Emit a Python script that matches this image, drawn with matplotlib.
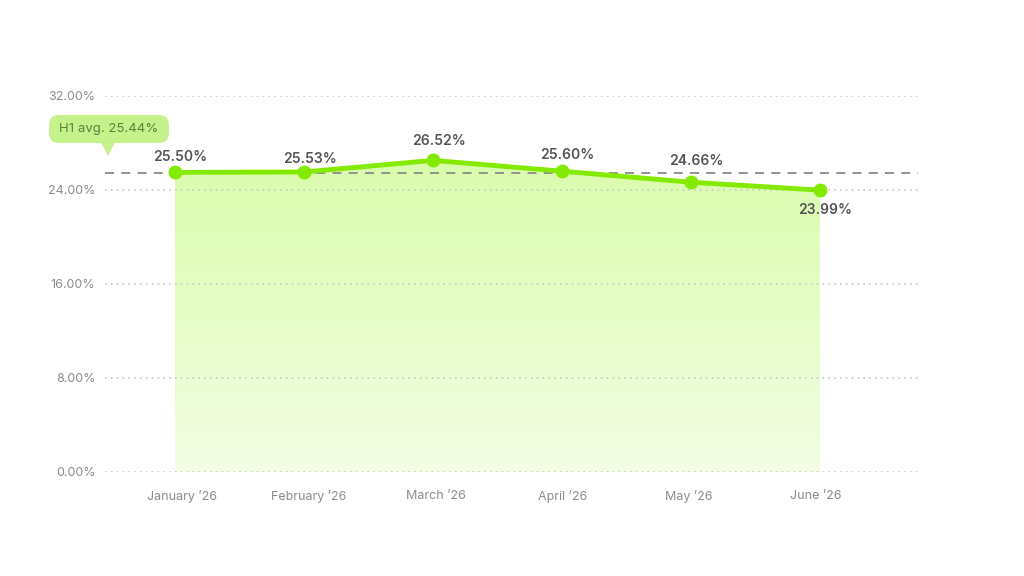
import matplotlib
matplotlib.use('Agg')
import matplotlib.pyplot as plt
import numpy as np
from matplotlib.patches import FancyBboxPatch, Polygon

plt.rcParams['font.family'] = ['Inter', 'DejaVu Sans']

months = ["January \u201926", "February \u201926", "March \u201926",
          "April \u201926", "May \u201926", "June \u201926"]
rates = [25.50, 25.53, 26.52, 25.60, 24.66, 23.99]
avg_rate = 25.44
avg_label = "H1 avg. 25.44%"
yticks = [0, 8, 16, 24, 32]

LINE = '#84ea00'
GRID = '#c8c8c8'
TICK = '#8c8c8c'
LABEL = '#555555'

fig = plt.figure(figsize=(10.24, 5.76), dpi=100)
ax = fig.add_axes([105 / 1024, 104 / 576, 813 / 1024, 376 / 576])

x = np.arange(len(months))
ax.set_xlim(-70 / 129, 743 / 129)
ax.set_ylim(0, 32)

# gradient fill under line
poly = ax.fill_between(x, 0, rates, color='none', lw=0)
grad = np.linspace(0, 1, 256).reshape(-1, 1)
top_c = np.array([218, 252, 172]) / 255
bot_c = np.array([243, 254, 228]) / 255
img = top_c[None, None, :] * (1 - grad[:, :, None]) + bot_c[None, None, :] * grad[:, :, None]
im = ax.imshow(img, extent=[x[0], x[-1], 0, max(rates)], aspect='auto',
               origin='upper', zorder=1)
path = poly.get_paths()[0]
im.set_clip_path(path, transform=ax.transData)

for t in yticks:
    ax.axhline(t, color=GRID, lw=1.2, ls=(0, (1, 2.5)), zorder=2)
ax.axhline(avg_rate, color='#8a8a8a', lw=1.3, ls=(0, (5, 4)), zorder=3)

ax.plot(x, rates, color=LINE, lw=3.5, marker='o', ms=9, zorder=4,
        solid_capstyle='round')

offsets = [11, 9.5, 14, 12, 15, -14]
for xi, r, off in zip(x, rates, offsets):
    ax.annotate(f"{r:.2f}%", (xi, r), xytext=(4, off), textcoords='offset points',
                ha='center', va='center', fontsize=10, fontweight='semibold',
                color=LABEL, zorder=5)

ax.set_yticks(yticks)
ax.set_yticklabels([f"{t:.2f}%" for t in yticks])
ax.set_xticks(0.054 + x * 0.983)
ax.set_xticklabels(months)
ax.tick_params(axis='both', length=0, labelsize=9, labelcolor=TICK)
ax.tick_params(axis='x', pad=13)
ax.tick_params(axis='y', pad=7)
for s in ax.spines.values():
    s.set_visible(False)

# callout
box = FancyBboxPatch((49, 433), 120, 28, boxstyle='round,pad=0,rounding_size=10',
                     transform=None, fc='#c6f28c', ec='none', zorder=6)
fig.patches.append(box)
tri = Polygon([[101, 434], [115, 434], [108, 420]], closed=True,
              transform=None, fc='#c6f28c', ec='none', zorder=6)
fig.patches.append(tri)
fig.text(109 / 1024, 447 / 576, avg_label, ha='center', va='center',
         fontsize=9.5, color='#5d7f3a', zorder=8)

fig.savefig('out.png', dpi=100)
